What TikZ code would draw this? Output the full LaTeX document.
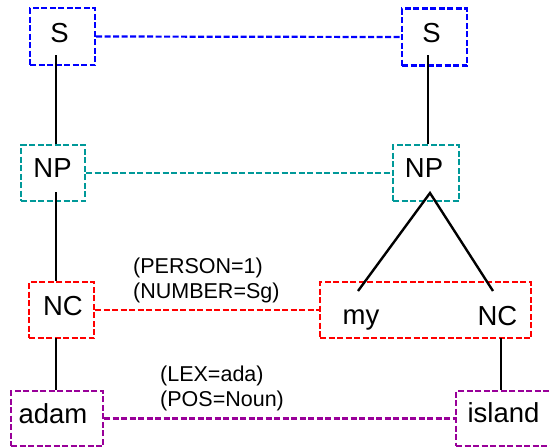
\documentclass[tikz,border=0pt]{standalone}
\usepackage{fontspec}
\setmainfont{Liberation Sans}
\definecolor{cblue}{RGB}{0,0,255}
\definecolor{cteal}{RGB}{0,153,153}
\definecolor{cred}{RGB}{255,0,0}
\definecolor{cpurple}{RGB}{153,0,153}
\tikzset{
  dbox/.style={draw, rectangle, line width=2.3pt, dash pattern=on 6pt off 2.5pt, inner sep=0pt},
  dlink/.style={line width=2.2pt, dash pattern=on 6pt off 2.5pt},
  word/.style={inner sep=0pt, anchor=base, font=\fontsize{27.5}{30}\selectfont},
  feat/.style={inner sep=0pt, anchor=north west, align=left, font=\fontsize{21.5}{25}\selectfont},
  tree/.style={line width=2.4pt, black}
}
\begin{document}
\begin{tikzpicture}[x=1pt,y=-1pt]
\useasboundingbox[fill=white] (0,0) rectangle (550,448);
% boxes
\node[dbox, cblue, minimum width=65pt, minimum height=57pt] (sLbox) at (62.5,36.5) {};
\node[dbox, cblue, minimum width=65pt, minimum height=57pt] (sRbox) at (434.5,37) {};
\node[dbox, cteal, minimum width=64pt, minimum height=56pt] (npLbox) at (53,173) {};
\node[dbox, cteal, minimum width=66pt, minimum height=56pt] (npRbox) at (426,173) {};
\node[dbox, cred, minimum width=65pt, minimum height=56pt] (ncLbox) at (61.5,310) {};
\node[dbox, cred, minimum width=211pt, minimum height=56pt] (ncRbox) at (425.5,310) {};
\node[dbox, cpurple, minimum width=92pt, minimum height=55pt] (adambox) at (57,418.5) {};
\node[dbox, cpurple, minimum width=104pt, minimum height=55pt] (islandbox) at (508,418.5) {};
% words
\node[word] (sL) at (59.5,42) {S};
\node[word] (sR) at (431.5,42) {S};
\node[word] (npL) at (52.5,177) {NP};
\node[word] (npR) at (424,177) {NP};
\node[word] (ncL) at (63,315) {NC};
\node[word] (my) at (361,324) {my};
\node[word] (ncR) at (497.5,325) {NC};
\node[word] (adam) at (53,423) {adam};
\node[word] (island) at (503.5,422) {island};
% features
\node[feat] (f1) at (133,258) {(PERSON=1)\\(NUMBER=Sg)};
\node[feat] (f2) at (160,366) {(LEX=ada)\\(POS=Noun)};
% dashed alignment links
\draw[dlink, cblue] (sLbox.east) -- (sRbox.west);
\draw[dlink, cteal] (npLbox.east) -- (npRbox.west);
\draw[dlink, cred] (ncLbox.east) -- (ncRbox.west);
\draw[dlink, cpurple] (adambox.east) -- (islandbox.west);
% tree edges
\coordinate (sLf) at (56,55);
\coordinate (sRf) at (428,55);
\coordinate (npLf) at (56,192);
\coordinate (npRf) at (430,193);
\coordinate (myT) at (358,291);
\coordinate (ncRT) at (493,291);
\coordinate (ncLf) at (56,338);
\coordinate (ncRf) at (501,338);
\draw[tree] (sLf) -- (sLf |- npLbox.north);
\draw[tree] (sRf) -- (sRf |- npRbox.north);
\draw[tree] (npLf) -- (npLf |- ncLbox.north);
\draw[tree] (myT) -- (npRf) -- (ncRT);
\draw[tree] (ncLf) -- (ncLf |- adambox.north);
\draw[tree] (ncRf) -- (ncRf |- islandbox.north);
\end{tikzpicture}
\end{document}
